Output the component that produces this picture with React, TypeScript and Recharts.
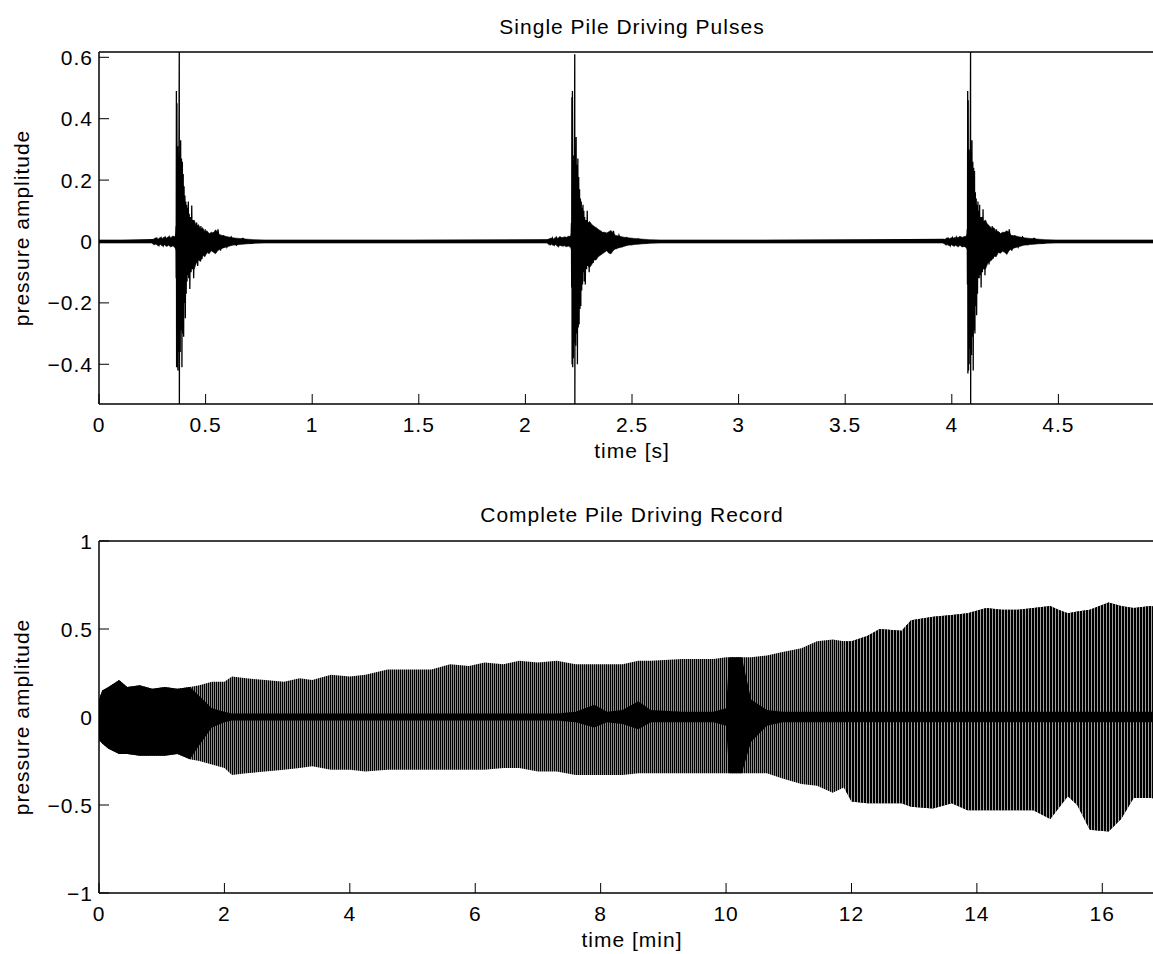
import React from "react";
import { ComposedChart, Line, Area, XAxis, YAxis } from "recharts";

const FONT = "'Liberation Sans', Arial, Helvetica, sans-serif";

// ---- top panel: three single blows (time in s) ----
const pulseTimes = [0.3765, 2.2315, 4.088]; // main spike of each blow
// oscillation samples, times relative to the main spike
const pulseOffsets = [
  -0.125, -0.115, -0.105, -0.095, -0.085, -0.075, -0.065, -0.055, -0.045, -0.035, -0.025, -0.018,
  -0.0155, -0.0145, -0.0135, -0.0125, -0.011, -0.0095, -0.008, -0.0065, -0.005, -0.0035, -0.002,
  0, 0.0005, 0.0025, 0.0045, 0.0065, 0.0085, 0.0105, 0.0125, 0.0145, 0.0165, 0.0185, 0.0205,
  0.0225, 0.0245, 0.0265, 0.0285, 0.0305, 0.0325, 0.0345, 0.0365, 0.0385, 0.0405,
  0.0425, 0.0445, 0.0465, 0.0495, 0.0525, 0.0555, 0.0585, 0.0615, 0.0645, 0.0675,
  0.0715, 0.0765, 0.0815, 0.0865, 0.0915, 0.0965, 0.1015, 0.1065, 0.1115, 0.1165,
  0.1215, 0.1275, 0.1335, 0.1395, 0.1455, 0.1535, 0.1615, 0.1715, 0.1815, 0.1935,
  0.2075, 0.2235, 0.2435, 0.2675, 0.2975, 0.3335, 0.38,
];
const pulse1 = [
  0.006, -0.008, 0.01, -0.012, 0.011, -0.013, 0.012, -0.01, 0.014, -0.015, 0.016, -0.018,
  0.05, -0.12, 0.49, -0.41, 0.45, -0.38, 0.31, -0.42, 0.26, -0.36, 0.22,
  0.62, -0.53, 0.28, -0.36, 0.33, -0.29, 0.27, -0.41, 0.26, -0.3, 0.22, -0.31,
  0.18, -0.2, 0.15, -0.25, 0.13, -0.17, 0.12, -0.13, 0.11, -0.11,
  0.13, -0.12, 0.09, -0.155, 0.08, -0.1, 0.117, -0.09, 0.07, -0.12,
  0.06, -0.07, 0.062, -0.08, 0.045, -0.05, 0.05, -0.057, 0.035, -0.04,
  0.04, -0.04, 0.03, -0.035, 0.025, -0.03, 0.03, -0.035, 0.04, -0.03,
  0.02, -0.018, 0.015, -0.012, 0.01, -0.006, 0,
];
const pulse2 = [
  0.005, -0.009, 0.011, -0.01, 0.012, -0.014, 0.01, -0.012, 0.015, -0.013, 0.017, -0.016,
  0.06, -0.15, 0.47, -0.4, 0.49, -0.41, 0.28, -0.38, 0.24, -0.33, 0.2,
  0.61, -0.53, 0.3, -0.34, 0.34, -0.3, 0.25, -0.4, 0.27, -0.28, 0.21, -0.27,
  0.17, -0.22, 0.14, -0.21, 0.13, -0.16, 0.11, -0.14, 0.12, -0.1,
  0.1, -0.13, 0.08, -0.14, 0.07, -0.09, 0.1, -0.08, 0.06, -0.1,
  0.055, -0.06, 0.05, -0.07, 0.04, -0.045, 0.045, -0.05, 0.03, -0.035,
  0.035, -0.035, 0.03, -0.03, 0.025, -0.025, 0.03, -0.03, 0.035, -0.025,
  0.02, -0.015, 0.012, -0.01, 0.008, -0.005, 0,
];
const pulse3 = [
  0.007, -0.01, 0.009, -0.013, 0.012, -0.011, 0.013, -0.012, 0.015, -0.016, 0.014, -0.017,
  0.04, -0.14, 0.49, -0.43, 0.46, -0.42, 0.3, -0.4, 0.25, -0.35, 0.21,
  0.62, -0.53, 0.29, -0.37, 0.33, -0.31, 0.26, -0.42, 0.24, -0.29, 0.23, -0.3,
  0.16, -0.21, 0.14, -0.24, 0.12, -0.17, 0.13, -0.12, 0.1, -0.12,
  0.12, -0.11, 0.08, -0.15, 0.08, -0.1, 0.105, -0.09, 0.065, -0.11,
  0.06, -0.065, 0.055, -0.075, 0.045, -0.05, 0.05, -0.055, 0.035, -0.04,
  0.04, -0.035, 0.03, -0.035, 0.025, -0.03, 0.03, -0.03, 0.04, -0.03,
  0.02, -0.018, 0.015, -0.01, 0.01, -0.006, 0,
];
// noise band around each blow (upper / lower edge), times relative to the main spike
const bandOffsets = [
  -0.13, -0.12, -0.11, -0.1, -0.09, -0.08, -0.07, -0.06, -0.05, -0.04, -0.03, -0.02, -0.013,
  0.07, 0.08, 0.09, 0.1, 0.11, 0.12, 0.13, 0.14, 0.15, 0.16, 0.17, 0.18, 0.19,
  0.21, 0.23, 0.25, 0.28, 0.31, 0.35, 0.4, 0.46,
];
const band1Upper = [
  0.005, 0.008, 0.012, 0.007, 0.013, 0.01, 0.015, 0.011, 0.016, 0.012, 0.018, 0.015, 0.03,
  0.07, 0.05, 0.055, 0.04, 0.045, 0.03, 0.035, 0.025, 0.03, 0.028, 0.038, 0.03, 0.022,
  0.018, 0.015, 0.012, 0.01, 0.008, 0.006, 0.005, 0.005,
];
const band1Lower = [
  -0.005, -0.01, -0.008, -0.014, -0.009, -0.015, -0.011, -0.016, -0.012, -0.018, -0.014, -0.02, -0.03,
  -0.09, -0.07, -0.06, -0.065, -0.045, -0.05, -0.035, -0.04, -0.03, -0.035, -0.04, -0.03, -0.025,
  -0.02, -0.016, -0.012, -0.01, -0.008, -0.006, -0.005, -0.005,
];
const band2Upper = [
  0.005, 0.009, 0.011, 0.008, 0.014, 0.01, 0.016, 0.012, 0.015, 0.013, 0.017, 0.016, 0.03,
  0.065, 0.055, 0.05, 0.045, 0.04, 0.035, 0.03, 0.03, 0.028, 0.032, 0.036, 0.028, 0.02,
  0.017, 0.014, 0.012, 0.01, 0.008, 0.006, 0.005, 0.005,
];
const band2Lower = [
  -0.005, -0.011, -0.009, -0.013, -0.01, -0.016, -0.012, -0.015, -0.013, -0.017, -0.015, -0.019, -0.03,
  -0.085, -0.075, -0.06, -0.06, -0.05, -0.045, -0.04, -0.035, -0.03, -0.038, -0.04, -0.03, -0.024,
  -0.02, -0.016, -0.012, -0.01, -0.008, -0.006, -0.005, -0.005,
];
const band3Upper = [
  0.005, 0.007, 0.012, 0.009, 0.012, 0.011, 0.014, 0.012, 0.017, 0.013, 0.016, 0.017, 0.03,
  0.07, 0.055, 0.05, 0.042, 0.045, 0.032, 0.033, 0.026, 0.03, 0.03, 0.035, 0.03, 0.02,
  0.018, 0.015, 0.012, 0.01, 0.008, 0.006, 0.005, 0.005,
];
const band3Lower = [
  -0.005, -0.009, -0.01, -0.014, -0.011, -0.015, -0.012, -0.017, -0.012, -0.018, -0.016, -0.02, -0.03,
  -0.09, -0.072, -0.065, -0.06, -0.048, -0.05, -0.036, -0.038, -0.032, -0.035, -0.042, -0.03, -0.025,
  -0.02, -0.016, -0.012, -0.01, -0.008, -0.006, -0.005, -0.005,
];
const quietBand = [-0.005, 0.005]; // background noise between blows
const pulseXTicks = [0, 0.5, 1, 1.5, 2, 2.5, 3, 3.5, 4, 4.5];
const pulseYTicks = [-0.4, -0.2, 0, 0.2, 0.4, 0.6];

// ---- bottom panel: envelope of the whole record (time in min) ----
const recordTime = [
  0, 0.05, 0.15, 0.32, 0.45, 0.65, 0.85, 1.05, 1.25, 1.45,
  1.6, 1.8, 2.0, 2.12, 2.35, 2.65, 2.95, 3.2, 3.4, 3.7,
  4.0, 4.25, 4.6, 5.0, 5.3, 5.6, 5.9, 6.15, 6.45, 6.7,
  7.0, 7.3, 7.6, 7.9, 8.1, 8.35, 8.6, 8.8, 9.3, 9.8,
  10.0, 10.05, 10.25, 10.4, 10.65, 10.9, 11.2, 11.45, 11.7, 11.88,
  12.0, 12.25, 12.45, 12.8, 12.95, 13.3, 13.6, 13.85, 14.15, 14.4,
  14.65, 14.9, 15.17, 15.3, 15.45, 15.6, 15.8, 16.1, 16.3, 16.5,
  16.77, 17.0,
];
const recordTop = [
  0.1, 0.15, 0.17, 0.21, 0.17, 0.18, 0.16, 0.17, 0.16, 0.17,
  0.18, 0.2, 0.2, 0.23, 0.22, 0.21, 0.2, 0.22, 0.21, 0.24,
  0.23, 0.24, 0.27, 0.27, 0.27, 0.3, 0.29, 0.31, 0.3, 0.32,
  0.31, 0.32, 0.3, 0.3, 0.3, 0.3, 0.32, 0.32, 0.33, 0.33,
  0.34, 0.34, 0.34, 0.34, 0.35, 0.37, 0.39, 0.43, 0.44, 0.43,
  0.43, 0.46, 0.5, 0.49, 0.55, 0.57, 0.58, 0.59, 0.62, 0.61,
  0.61, 0.62, 0.63, 0.61, 0.59, 0.6, 0.61, 0.65, 0.63, 0.62,
  0.63, 0.62,
];
const recordBottom = [
  -0.13, -0.15, -0.18, -0.21, -0.21, -0.22, -0.22, -0.22, -0.21, -0.24,
  -0.25, -0.27, -0.29, -0.33, -0.32, -0.31, -0.3, -0.29, -0.28, -0.3,
  -0.3, -0.31, -0.3, -0.3, -0.3, -0.3, -0.3, -0.3, -0.29, -0.29,
  -0.31, -0.31, -0.33, -0.33, -0.33, -0.33, -0.32, -0.32, -0.32, -0.32,
  -0.32, -0.32, -0.32, -0.32, -0.32, -0.35, -0.38, -0.39, -0.43, -0.4,
  -0.48, -0.49, -0.49, -0.49, -0.51, -0.52, -0.49, -0.53, -0.53, -0.53,
  -0.53, -0.53, -0.58, -0.52, -0.45, -0.5, -0.64, -0.65, -0.58, -0.46,
  -0.46, -0.47,
];
// dense (solid black) part around zero
const coreTop = [
  0.1, 0.15, 0.17, 0.21, 0.17, 0.18, 0.16, 0.17, 0.16, 0.17,
  0.12, 0.05, 0.03, 0.02, 0.02, 0.02, 0.02, 0.02, 0.02, 0.02,
  0.02, 0.02, 0.02, 0.02, 0.02, 0.02, 0.02, 0.02, 0.02, 0.02,
  0.02, 0.02, 0.03, 0.07, 0.03, 0.04, 0.09, 0.04, 0.03, 0.03,
  0.05, 0.34, 0.34, 0.1, 0.04, 0.03, 0.03, 0.03, 0.03, 0.03,
  0.03, 0.03, 0.03, 0.03, 0.03, 0.03, 0.03, 0.03, 0.03, 0.03,
  0.03, 0.03, 0.03, 0.03, 0.03, 0.03, 0.03, 0.03, 0.03, 0.03,
  0.03, 0.03,
];
const coreBottom = [
  -0.13, -0.15, -0.18, -0.21, -0.21, -0.22, -0.22, -0.22, -0.21, -0.24,
  -0.16, -0.06, -0.03, -0.02, -0.02, -0.02, -0.02, -0.02, -0.02, -0.02,
  -0.02, -0.02, -0.02, -0.02, -0.02, -0.02, -0.02, -0.02, -0.02, -0.02,
  -0.02, -0.02, -0.03, -0.06, -0.03, -0.04, -0.07, -0.03, -0.03, -0.03,
  -0.05, -0.32, -0.32, -0.14, -0.05, -0.03, -0.03, -0.03, -0.03, -0.03,
  -0.03, -0.03, -0.03, -0.03, -0.03, -0.03, -0.03, -0.03, -0.03, -0.03,
  -0.03, -0.03, -0.03, -0.03, -0.03, -0.03, -0.03, -0.03, -0.03, -0.03,
  -0.03, -0.03,
];
const denseFrom = 11.88; // blows are packed tighter from here on
const recordXTicks = [0, 2, 4, 6, 8, 10, 12, 14, 16];
const recordYTicks = [-1, -0.5, 0, 0.5, 1];

const pulseSeries = [pulse1, pulse2, pulse3];
const bandSeries = [
  [band1Lower, band1Upper],
  [band2Lower, band2Upper],
  [band3Lower, band3Upper],
];

const pulseData: { t: number; p: number }[] = [{ t: 0, p: 0 }];
pulseTimes.forEach((t0, k) =>
  pulseOffsets.forEach((dt, i) => pulseData.push({ t: t0 + dt, p: pulseSeries[k][i] }))
);
pulseData.push({ t: 5, p: 0 });

const bandData: { t: number; band: number[] }[] = [{ t: 0, band: quietBand }];
pulseTimes.forEach((t0, k) =>
  bandOffsets.forEach((dt, i) =>
    bandData.push({ t: t0 + dt, band: [bandSeries[k][0][i], bandSeries[k][1][i]] })
  )
);
bandData.push({ t: 5, band: quietBand });

const recordData = recordTime.map((t, i) => ({
  t,
  env: [recordBottom[i], recordTop[i]],
  core: [coreBottom[i], coreTop[i]],
}));
const denseData = recordData.filter((r) => r.t >= denseFrom);

const fmt = (v: number) => (v < 0 ? "\u2212" + String(Math.abs(v)) : String(v));

const textProps = {
  fontFamily: FONT,
  fontSize: 21,
  letterSpacing: 1,
  fill: "#000",
};

function BottomTick(props: any) {
  const { x, y, payload } = props;
  return (
    <g>
      <line x1={x} x2={x} y1={y} y2={y - 10} stroke="#000" strokeWidth={1} />
      <text x={x} y={y + 28} textAnchor="middle" {...textProps}>
        {fmt(payload.value)}
      </text>
    </g>
  );
}

function TopTick(props: any) {
  const { x, y } = props;
  return <line x1={x} x2={x} y1={y} y2={y + 10} stroke="#000" strokeWidth={1} />;
}

function LeftTick(props: any) {
  const { x, y, payload } = props;
  return (
    <g>
      <line x1={x} x2={x + 10} y1={y} y2={y} stroke="#000" strokeWidth={1} />
      <text x={x - 6} y={y + 7.5} textAnchor="end" {...textProps}>
        {fmt(payload.value)}
      </text>
    </g>
  );
}

const axisLine = { stroke: "#000", strokeWidth: 1.5 };

export default function App() {
  return (
    <div
      style={{
        position: "absolute",
        left: 0,
        top: 0,
        width: 1153,
        height: 954,
        overflow: "hidden",
        background: "#fff",
      }}
    >
      <div style={{ position: "absolute", left: 0, top: 0 }}>
        <ComposedChart width={1165} height={480} margin={{ top: 51, right: 0, bottom: 75, left: 0 }}>
          <XAxis
            xAxisId="b"
            dataKey="t"
            type="number"
            domain={[0, 5]}
            ticks={pulseXTicks}
            allowDataOverflow
            height={1}
            tickSize={0}
            tickMargin={0}
            tickLine={false}
            axisLine={axisLine}
            tick={<BottomTick />}
          />
          <XAxis
            xAxisId="t"
            orientation="top"
            type="number"
            domain={[0, 5]}
            ticks={pulseXTicks}
            allowDataOverflow
            height={1}
            tickSize={0}
            tickMargin={0}
            tickLine={false}
            axisLine={axisLine}
            tick={<TopTick />}
          />
          <YAxis
            type="number"
            domain={[-0.5294, 0.6173]}
            ticks={pulseYTicks}
            allowDataOverflow
            width={99}
            tickSize={0}
            tickMargin={0}
            tickLine={false}
            axisLine={axisLine}
            tick={<LeftTick />}
          />
          <Area
            xAxisId="b"
            data={bandData}
            type="linear"
            dataKey="band"
            fill="#000"
            fillOpacity={1}
            stroke="#000"
            strokeWidth={0.6}
            isAnimationActive={false}
          />
          <Line
            xAxisId="b"
            data={pulseData}
            type="linear"
            dataKey="p"
            stroke="#000"
            strokeWidth={1.3}
            dot={false}
            isAnimationActive={false}
          />
        </ComposedChart>
      </div>

      <div style={{ position: "absolute", left: 0, top: 489 }}>
        <ComposedChart width={1165} height={465} margin={{ top: 51, right: 0, bottom: 60, left: 0 }}>
          <defs>
            <pattern id="stripes" patternUnits="userSpaceOnUse" width={2} height={4}>
              <rect x={0} y={0} width={2} height={4} fill="#8a8a8a" />
              <rect x={0} y={0} width={1} height={4} fill="#000" />
            </pattern>
            <pattern id="stripesDense" patternUnits="userSpaceOnUse" width={3} height={4}>
              <rect x={0} y={0} width={3} height={4} fill="#a0a0a0" />
              <rect x={0} y={0} width={2} height={4} fill="#000" />
            </pattern>
          </defs>
          <XAxis
            xAxisId="b"
            dataKey="t"
            type="number"
            domain={[0, 17]}
            ticks={recordXTicks}
            allowDataOverflow
            height={1}
            tickSize={0}
            tickMargin={0}
            tickLine={false}
            axisLine={axisLine}
            tick={<BottomTick />}
          />
          <XAxis
            xAxisId="t"
            orientation="top"
            type="number"
            domain={[0, 17]}
            ticks={recordXTicks}
            allowDataOverflow
            height={1}
            tickSize={0}
            tickMargin={0}
            tickLine={false}
            axisLine={axisLine}
            tick={<TopTick />}
          />
          <YAxis
            type="number"
            domain={[-1, 1]}
            ticks={recordYTicks}
            allowDataOverflow
            width={99}
            tickSize={0}
            tickMargin={0}
            tickLine={false}
            axisLine={axisLine}
            tick={<LeftTick />}
          />
          <Area
            xAxisId="b"
            data={recordData}
            type="linear"
            dataKey="env"
            fill="url(#stripes)"
            fillOpacity={1}
            stroke="none"
            isAnimationActive={false}
          />
          <Area
            xAxisId="b"
            data={denseData}
            type="linear"
            dataKey="env"
            fill="url(#stripesDense)"
            fillOpacity={1}
            stroke="none"
            isAnimationActive={false}
          />
          <Area
            xAxisId="b"
            data={recordData}
            type="linear"
            dataKey="core"
            fill="#000"
            fillOpacity={1}
            stroke="none"
            isAnimationActive={false}
          />
        </ComposedChart>
      </div>

      <svg
        width={1153}
        height={954}
        style={{ position: "absolute", left: 0, top: 0, pointerEvents: "none" }}
      >
        <text x={632} y={34} textAnchor="middle" {...textProps}>
          Single Pile Driving Pulses
        </text>
        <text x={632} y={458} textAnchor="middle" {...textProps}>
          time [s]
        </text>
        <text transform="translate(29,228) rotate(-90)" textAnchor="middle" {...textProps}>
          pressure amplitude
        </text>
        <text x={632} y={522} textAnchor="middle" {...textProps}>
          Complete Pile Driving Record
        </text>
        <text x={632} y={947} textAnchor="middle" {...textProps}>
          time [min]
        </text>
        <text transform="translate(29,717) rotate(-90)" textAnchor="middle" {...textProps}>
          pressure amplitude
        </text>
      </svg>
    </div>
  );
}
